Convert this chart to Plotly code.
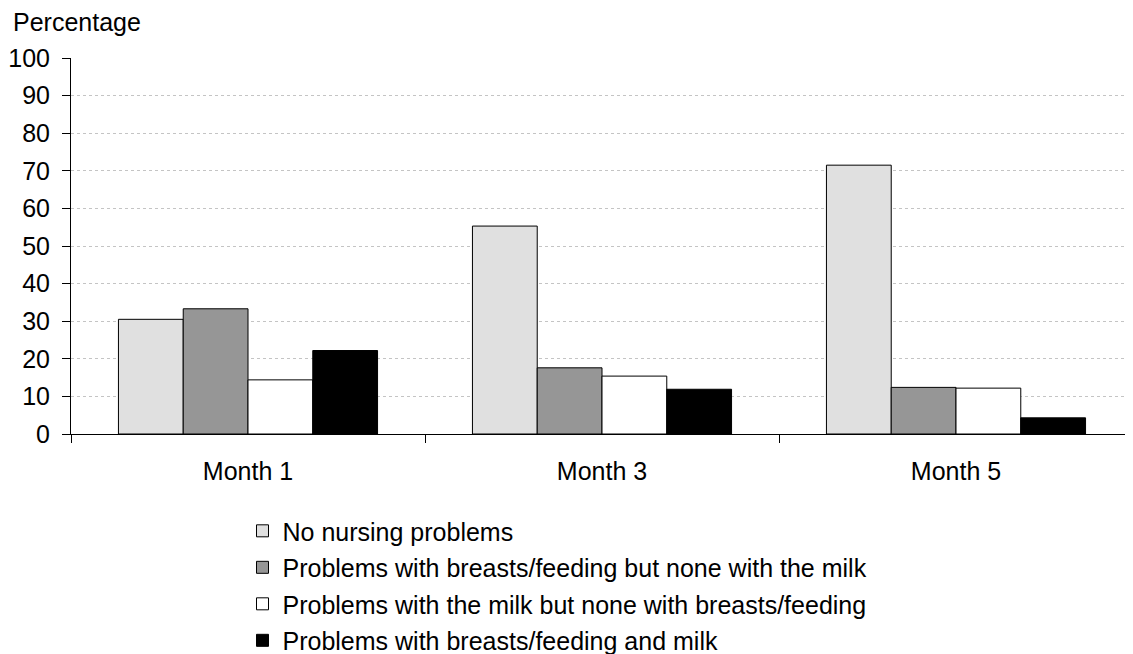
import plotly.graph_objects as go

categories = ["Month 1", "Month 3", "Month 5"]
series_names = [
    "No nursing problems",
    "Problems with breasts/feeding but none with the milk",
    "Problems with the milk but none with breasts/feeding",
    "Problems with breasts/feeding and milk",
]
no_problems = [30.5, 55.3, 71.5]
breast_only = [33.3, 17.6, 12.4]
milk_only = [14.4, 15.4, 12.2]
both = [22.2, 11.9, 4.3]
y_ticks = list(range(0, 101, 10))

colors = ["#e0e0e0", "#969696", "#ffffff", "#000000"]
values = [no_problems, breast_only, milk_only, both]

fig = go.Figure()
for i, (name, vals, col) in enumerate(zip(series_names, values, colors)):
    fig.add_trace(go.Bar(
        x=categories, y=vals, name=name, legendgroup="g%d" % i,
        marker=dict(color=col, line=dict(color="#000000", width=1)),
    ))

FONT = "Liberation Sans, Arial, sans-serif"
FS = 25
fig.update_layout(
    width=1133, height=654,
    margin=dict(l=63, r=8, t=50, b=228, autoexpand=False),
    paper_bgcolor="white", plot_bgcolor="white",
    barmode="group", bargap=0.268, bargroupgap=0,
    font=dict(family=FONT, size=FS, color="#000000"),
    showlegend=True,
    legend=dict(
        x=0.1615, xanchor="left", y=-0.197, yanchor="top",
        font=dict(family=FONT, size=FS, color="#000000"),
        traceorder="grouped", tracegroupgap=1,
        bgcolor="rgba(0,0,0,0)", itemwidth=30,
    ),
    annotations=[dict(
        text="Percentage", xref="paper", yref="paper",
        x=-0.0565, y=1.0957, xanchor="left", yanchor="middle",
        showarrow=False, font=dict(family=FONT, size=FS, color="#000000"),
    )],
)
fig.update_yaxes(
    range=[0, 100], tickvals=y_ticks, ticks="outside", ticklen=8,
    tickcolor="#000000", showline=True, linecolor="#000000", linewidth=1,
    showgrid=True, gridcolor="#c4c4c4", griddash="dot", gridwidth=1,
    zeroline=False, tickfont=dict(size=FS), automargin=False,
    ticklabelstandoff=7,
)
fig.update_xaxes(
    ticks="outside", ticklen=8, tickcolor="#000000", tickson="boundaries",
    showline=True, linecolor="#000000", linewidth=1, showgrid=False,
    tickfont=dict(size=FS), ticklabelstandoff=15, automargin=False,
)

fig.write_html("out.html")
